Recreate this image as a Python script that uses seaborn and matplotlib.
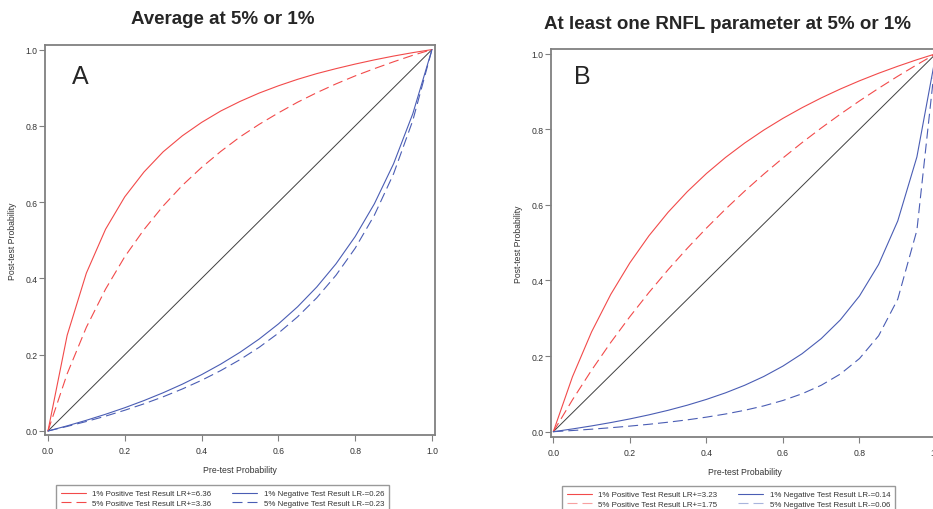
import matplotlib
matplotlib.use("Agg")
import matplotlib.pyplot as plt
import seaborn as sns

# pre-test probability grid (0.05 steps) and diagonal
pre = [0.0, 0.05, 0.10, 0.15, 0.20, 0.25, 0.30, 0.35, 0.40, 0.45, 0.50,
       0.55, 0.60, 0.65, 0.70, 0.75, 0.80, 0.85, 0.90, 0.95, 1.0]
diag = [0.0, 1.0]

# Panel A: average at 5% or 1%
a_pos1 = [0, .251, .414, .529, .614, .679, .732, .774, .809, .839, .864,
          .886, .905, .922, .937, .950, .962, .973, .983, .992, 1]
a_pos5 = [0, .150, .272, .372, .457, .528, .590, .644, .691, .733, .771,
          .804, .834, .862, .887, .910, .931, .950, .968, .985, 1]
a_neg1 = [0, .0135, .0281, .0439, .0610, .0798, .1003, .1228, .1477, .1754, .2063,
          .2411, .2806, .3256, .3776, .4382, .5098, .5957, .7006, .8316, 1]
a_neg5 = [0, .0120, .0249, .0390, .0544, .0712, .0897, .1102, .1329, .1584, .1870,
          .2194, .2565, .2993, .3492, .4083, .4792, .5658, .6743, .8138, 1]
a_labels = ["1% Positive Test Result LR+=6.36", "5% Positive Test Result LR+=3.36",
            "1% Negative Test Result LR-=0.26", "5% Negative Test Result LR-=0.23"]

# Panel B: at least one RNFL parameter at 5% or 1%
b_pos1 = [0, .1453, .2641, .3631, .4467, .5185, .5806, .6349, .6829, .7255, .7636,
          .7979, .8289, .8571, .8829, .9065, .9282, .9482, .9667, .9840, 1]
b_pos5 = [0, .0843, .1628, .2360, .3043, .3684, .4286, .4851, .5385, .5888, .6364,
          .6814, .7241, .7647, .8033, .8400, .8750, .9084, .9403, .9708, 1]
b_neg1 = [0, .0073, .0153, .0241, .0338, .0446, .0566, .0701, .0854, .1028, .1228,
          .1461, .1736, .2063, .2462, .2958, .3590, .4424, .5575, .7268, 1]
b_neg5 = [0, .0031, .0066, .0105, .0148, .0196, .0251, .0313, .0385, .0468, .0566,
          .0683, .0826, .1003, .1228, .1525, .1935, .2537, .3506, .5327, 1]
b_labels = ["1% Positive Test Result LR+=3.23", "5% Positive Test Result LR+=1.75",
            "1% Negative Test Result LR-=0.14", "5% Negative Test Result LR-=0.06"]

sns.set_style("white")
plt.rcParams['font.family'] = ['Liberation Sans', 'DejaVu Sans']

RED = "#f24a4a"
BLUE = "#4a5db4"
DASH = (0, (9, 4.5))
GREY = "#808080"
TXT = "#333333"

fig = plt.figure(figsize=(9.33, 5.10), dpi=100)
axA = fig.add_axes([0.0482, 0.1451, 0.4180, 0.7647])
axB = fig.add_axes([0.5906, 0.1418, 0.4151, 0.7602])


def draw(ax, curves, labels, xlim, ylim):
    sns.lineplot(x=diag, y=diag, ax=ax, color="#404040", lw=0.7)
    styles = [(RED, "-"), (RED, DASH), (BLUE, "-"), (BLUE, DASH)]
    for ys, lab, (c, ls) in zip(curves, labels, styles):
        sns.lineplot(x=pre, y=ys, ax=ax, color=c, linestyle=ls, lw=0.8, label=lab)
    if ax.get_legend() is not None:
        ax.get_legend().remove()
    ax.set_xlim(*xlim)
    ax.set_ylim(*ylim)
    ticks = [0.0, 0.2, 0.4, 0.6, 0.8, 1.0]
    ax.set_xticks(ticks)
    ax.set_yticks(ticks)
    ax.set_xticklabels([f"{t:.1f}" for t in ticks])
    ax.set_yticklabels([f"{t:.1f}" for t in ticks])
    ax.tick_params(axis="both", direction="out", length=4, width=0.8, color=GREY,
                   labelsize=6.2, labelcolor=TXT, bottom=True, left=True)
    ax.tick_params(axis="x", pad=4)
    ax.tick_params(axis="y", pad=1.5)
    for s in ax.spines.values():
        s.set_color(GREY)
        s.set_linewidth(1.3)
        s.set_visible(True)
    ax.set_xlabel("Pre-test Probability", fontsize=6.2, color=TXT, labelpad=7)
    ax.set_ylabel("Post-test Probability", fontsize=6.2, color=TXT, labelpad=6)


draw(axA, [a_pos1, a_pos5, a_neg1, a_neg5], a_labels,
     (-0.0078, 1.0078), (-0.0105, 1.012))
draw(axB, [b_pos1, b_pos5, b_neg1, b_neg5], b_labels,
     (-0.006, 1.006), (-0.0132, 1.0124))

axA.text(0.07, 0.92, "A", transform=axA.transAxes, fontsize=18, ha="left", va="center")
axB.text(0.06, 0.93, "B", transform=axB.transAxes, fontsize=18, ha="left", va="center")

fig.text(223 / 933, 1 - 24 / 510, "Average at 5% or 1%", fontsize=13.5,
         fontweight="bold", ha="center", va="baseline")
fig.text(727 / 933, 1 - 29 / 510, "At least one RNFL parameter at 5% or 1%",
         fontsize=13.5, fontweight="bold", ha="center", va="baseline")

leg_kw = dict(ncol=2, loc="upper left", fontsize=5.7, frameon=True, fancybox=False,
              edgecolor=GREY, borderaxespad=0, handlelength=3.2, handletextpad=0.8,
              columnspacing=2.6, labelspacing=0.25, borderpad=0.6, labelcolor=TXT)
hA, lA = axA.get_legend_handles_labels()
legA = fig.legend(hA, lA, bbox_to_anchor=(56 / 933, 1 - 486 / 510), **leg_kw)
hB, lB = axB.get_legend_handles_labels()
legB = fig.legend(hB, lB, bbox_to_anchor=(562 / 933, 1 - 487 / 510), **leg_kw)
for leg in (legA, legB):
    leg.get_frame().set_linewidth(1.0)
legB.get_lines()[1].set_color("#f7a0a0")
legB.get_lines()[3].set_color("#a8b4dc")

fig.savefig("out.png", dpi=100)
